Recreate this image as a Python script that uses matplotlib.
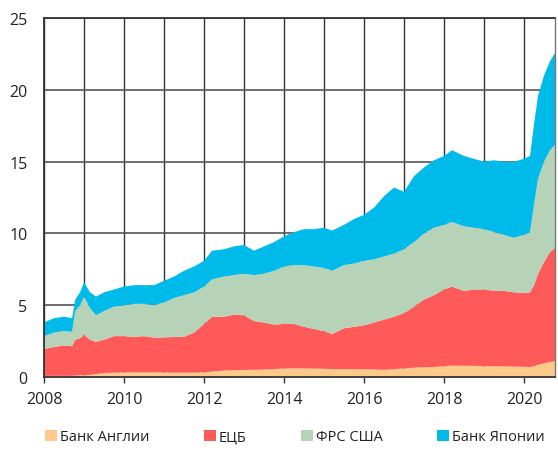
import matplotlib.pyplot as plt
from matplotlib.patches import Patch
from matplotlib.ticker import MultipleLocator
import numpy as np

plt.rcParams['font.family'] = ['Open Sans', 'DejaVu Sans']

# даты (доля года) и активы центробанков, трлн долл.
dates = [2008.00, 2008.25, 2008.50, 2008.70, 2008.78, 2008.90, 2009.00, 2009.15,
         2009.30, 2009.50, 2009.75, 2010.00, 2010.25, 2010.50, 2010.75, 2011.00,
         2011.25, 2011.50, 2011.75, 2012.00, 2012.20, 2012.50, 2012.75, 2013.00,
         2013.25, 2013.50, 2013.75, 2014.00, 2014.25, 2014.50, 2014.75, 2015.00,
         2015.20, 2015.50, 2015.75, 2016.00, 2016.25, 2016.50, 2016.75, 2017.00,
         2017.25, 2017.50, 2017.75, 2018.00, 2018.20, 2018.50, 2018.75, 2019.00,
         2019.25, 2019.50, 2019.75, 2020.00, 2020.15, 2020.25, 2020.35, 2020.50,
         2020.65, 2020.78]

boe = [0.08, 0.08, 0.08, 0.08, 0.10, 0.12, 0.12, 0.15, 0.20, 0.28, 0.30, 0.32,
       0.32, 0.32, 0.32, 0.32, 0.30, 0.30, 0.30, 0.32, 0.38, 0.45, 0.48, 0.50,
       0.50, 0.52, 0.55, 0.60, 0.60, 0.60, 0.58, 0.58, 0.55, 0.55, 0.55, 0.55,
       0.52, 0.50, 0.55, 0.60, 0.65, 0.68, 0.70, 0.75, 0.80, 0.78, 0.78, 0.75,
       0.75, 0.75, 0.72, 0.72, 0.70, 0.75, 0.85, 0.95, 1.05, 1.10]

ecb = [1.87, 2.02, 2.12, 2.07, 2.50, 2.58, 2.83, 2.45, 2.25, 2.32, 2.55, 2.53,
       2.48, 2.53, 2.43, 2.43, 2.50, 2.50, 2.80, 3.38, 3.82, 3.75, 3.87, 3.80,
       3.40, 3.28, 3.10, 3.10, 3.10, 2.90, 2.77, 2.62, 2.45, 2.85, 2.95, 3.05,
       3.28, 3.50, 3.65, 3.85, 4.25, 4.72, 5.00, 5.35, 5.50, 5.22, 5.32, 5.35,
       5.25, 5.25, 5.18, 5.13, 5.20, 5.65, 6.35, 7.05, 7.65, 7.90]

fed = [0.90, 1.00, 1.00, 1.00, 2.00, 2.30, 2.65, 2.20, 1.85, 2.00, 2.05, 2.15,
       2.30, 2.25, 2.25, 2.45, 2.70, 2.90, 2.80, 2.60, 2.60, 2.80, 2.75, 2.90,
       3.20, 3.40, 3.75, 4.00, 4.10, 4.30, 4.35, 4.40, 4.40, 4.40, 4.40, 4.50,
       4.40, 4.40, 4.40, 4.45, 4.50, 4.60, 4.70, 4.50, 4.50, 4.50, 4.30, 4.20,
       4.10, 3.90, 3.80, 4.05, 4.20, 5.60, 6.60, 7.00, 7.10, 7.20]

boj = [0.95, 1.00, 1.00, 0.95, 0.80, 0.90, 1.00, 1.10, 1.30, 1.30, 1.20, 1.30,
       1.30, 1.30, 1.40, 1.50, 1.50, 1.70, 1.80, 1.80, 2.00, 1.90, 2.00, 2.00,
       1.70, 1.90, 2.00, 2.10, 2.30, 2.50, 2.60, 2.80, 2.80, 2.80, 3.10, 3.20,
       3.60, 4.20, 4.60, 4.00, 4.60, 4.60, 4.70, 4.80, 5.00, 4.90, 4.80, 4.70,
       5.00, 5.10, 5.30, 5.30, 5.30, 5.60, 5.80, 6.00, 6.20, 6.40]

labels = ['Банк Англии', 'ЕЦБ', 'ФРС США', 'Банк Японии']
colors = ['#fdca8a', '#ff5a5a', '#b6d3b8', '#00baea']

fig = plt.figure(figsize=(5.58, 4.56), dpi=100)
ax = fig.add_axes([0.079, 0.171, 0.916, 0.787])

ax.stackplot(dates, boe, ecb, fed, boj, colors=colors, linewidth=0, zorder=2)

ax.set_xlim(2008, dates[-1])
ax.set_ylim(0, 25)
ax.xaxis.set_major_locator(MultipleLocator(2))
ax.xaxis.set_minor_locator(MultipleLocator(1))
ax.yaxis.set_major_locator(MultipleLocator(5))
ax.grid(which='both', axis='x', color='#333333', linewidth=1.0, zorder=1)
ax.grid(which='major', axis='y', color='#555555', linewidth=1.2, zorder=1)
ax.set_axisbelow(True)

ax.tick_params(axis='x', which='major', length=4, width=1, color='#333333',
               labelsize=11.5, pad=6, labelcolor='#222222')
ax.tick_params(axis='x', which='minor', length=0)
ax.tick_params(axis='y', length=0, labelsize=11.5, pad=12, labelcolor='#222222')

for side in ['left', 'bottom']:
    ax.spines[side].set_color('#333333')
    ax.spines[side].set_linewidth(1.3)
    ax.spines[side].set_zorder(3)
ax.spines['top'].set_color('#333333')
ax.spines['top'].set_linewidth(1.3)
ax.spines['right'].set_color('#777777')
ax.spines['right'].set_linewidth(1.0)

handles = [Patch(facecolor=c, edgecolor='none') for c in colors]
fig.legend(handles, labels, loc='lower left', bbox_to_anchor=(0.058, -0.005),
           ncol=4, frameon=False, fontsize=10.5, handlelength=0.8, handleheight=0.8,
           handletextpad=0.2, columnspacing=3.75, labelcolor='#222222')

fig.savefig('out.png', dpi=100)
